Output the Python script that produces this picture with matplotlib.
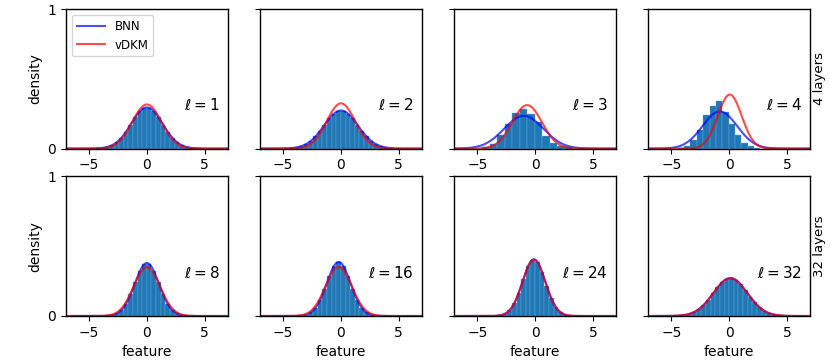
import numpy as np
import matplotlib
matplotlib.use("Agg")
import matplotlib.pyplot as plt

# layer labels per panel (top row: 4-layer net, bottom row: 32-layer net)
layers = [1, 2, 3, 4, 8, 16, 24, 32]
row_labels = ["4 layers", "32 layers"]

# fitted gaussians: (mean, std)
bnn_fit = [(0.0, 1.35), (0.0, 1.46), (-0.98, 1.70), (-0.81, 1.50),
           (0.0, 1.05), (-0.2, 1.03), (-0.1, 0.98), (0.1, 1.47)]
vdkm_fit = [(0.0, 1.26), (0.0, 1.23), (-0.69, 1.28), (0.05, 1.03),
            (0.0, 1.14), (-0.2, 1.135), (-0.1, 0.99), (0.1, 1.47)]

# histogram bin heights (density); (first edge, bin width, heights)
hist_1 = [0.002, 0.006, 0.012, 0.025, 0.046, 0.078, 0.121, 0.172, 0.224, 0.267, 0.292,
          0.292, 0.267, 0.224, 0.172, 0.121, 0.078, 0.046, 0.025, 0.012, 0.006, 0.002]
hist_2 = [0.004, 0.009, 0.018, 0.033, 0.056, 0.088, 0.128, 0.172, 0.216, 0.251, 0.270,
          0.270, 0.251, 0.216, 0.172, 0.128, 0.088, 0.056, 0.033, 0.018, 0.009, 0.004]
hist_3 = [0.01, 0.03, 0.10, 0.175, 0.254, 0.283, 0.25, 0.187, 0.09, 0.043, 0.02, 0.008]
hist_4 = [0.005, 0.02, 0.06, 0.13, 0.24, 0.307, 0.338, 0.26, 0.175, 0.10, 0.043, 0.02, 0.005]
hist_8 = [0.0, 0.0, 0.002, 0.006, 0.018, 0.042, 0.087, 0.156, 0.241, 0.322, 0.372,
          0.372, 0.322, 0.241, 0.156, 0.087, 0.042, 0.018, 0.006, 0.002, 0.0, 0.0]
hist_16 = [0.0, 0.001, 0.003, 0.010, 0.026, 0.059, 0.116, 0.196, 0.286, 0.359, 0.387,
           0.359, 0.286, 0.196, 0.116, 0.059, 0.026, 0.010, 0.003, 0.001, 0.0, 0.0]
hist_24 = [0.0, 0.0, 0.001, 0.005, 0.016, 0.041, 0.090, 0.168, 0.266, 0.356, 0.404,
           0.388, 0.315, 0.216, 0.126, 0.062, 0.026, 0.009, 0.003, 0.001, 0.0, 0.0]
hist_32 = [0.004, 0.008, 0.016, 0.029, 0.050, 0.080, 0.118, 0.162, 0.206, 0.243, 0.266,
           0.271, 0.257, 0.226, 0.184, 0.139, 0.098, 0.064, 0.039, 0.022, 0.011, 0.006]

hists = [(-4.4, 0.4, hist_1), (-4.4, 0.4, hist_2), (-4.57, 0.65, hist_3), (-4.45, 0.55, hist_4),
         (-4.4, 0.4, hist_8), (-4.4, 0.4, hist_16), (-4.4, 0.4, hist_24), (-4.4, 0.4, hist_32)]

def gauss(x, m, s):
    return np.exp(-0.5 * ((x - m) / s) ** 2) / (s * np.sqrt(2 * np.pi))

fig, axes = plt.subplots(2, 4, figsize=(8.3, 3.63), dpi=100, sharey=True)
fig.subplots_adjust(left=0.0795, right=0.976, top=0.975, bottom=0.1295,
                    wspace=0.2, hspace=0.2)

xs = np.linspace(-7, 7, 400)
for i, ax in enumerate(axes.flat):
    start, width, h = hists[i]
    edges = start + width * np.arange(len(h) + 1)
    centers = (edges[:-1] + edges[1:]) / 2
    ax.hist(centers, bins=edges, weights=h, color="#1f77b4",
            edgecolor="#6fa6d6", linewidth=0.3)
    ax.plot(xs, gauss(xs, *bnn_fit[i]), color="blue", alpha=0.7, lw=1.5, label="BNN")
    ax.plot(xs, gauss(xs, *vdkm_fit[i]), color="red", alpha=0.7, lw=1.5, label="vDKM")
    ax.text(6.3, 0.31, r"$\ell=%d$" % layers[i], ha="right", va="center", fontsize=11)
    ax.set_xlim(-7, 7)
    ax.set_ylim(0, 1)
    ax.set_xticks([-5, 0, 5])
    ax.set_yticks([0, 1])
    ax.tick_params(labelsize=10)
    for sp in ax.spines.values():
        sp.set_linewidth(1.0)

axes[0, 0].legend(loc="upper left", fontsize=8.5, handlelength=2.4)
for r in range(2):
    axes[r, 0].set_ylabel("density", fontsize=10)
    axes[r, 3].yaxis.set_label_position("right")
    axes[r, 3].set_ylabel(row_labels[r], fontsize=9.5, labelpad=2)
for ax in axes[1]:
    ax.set_xlabel("feature", fontsize=10)

fig.savefig("out.png")
